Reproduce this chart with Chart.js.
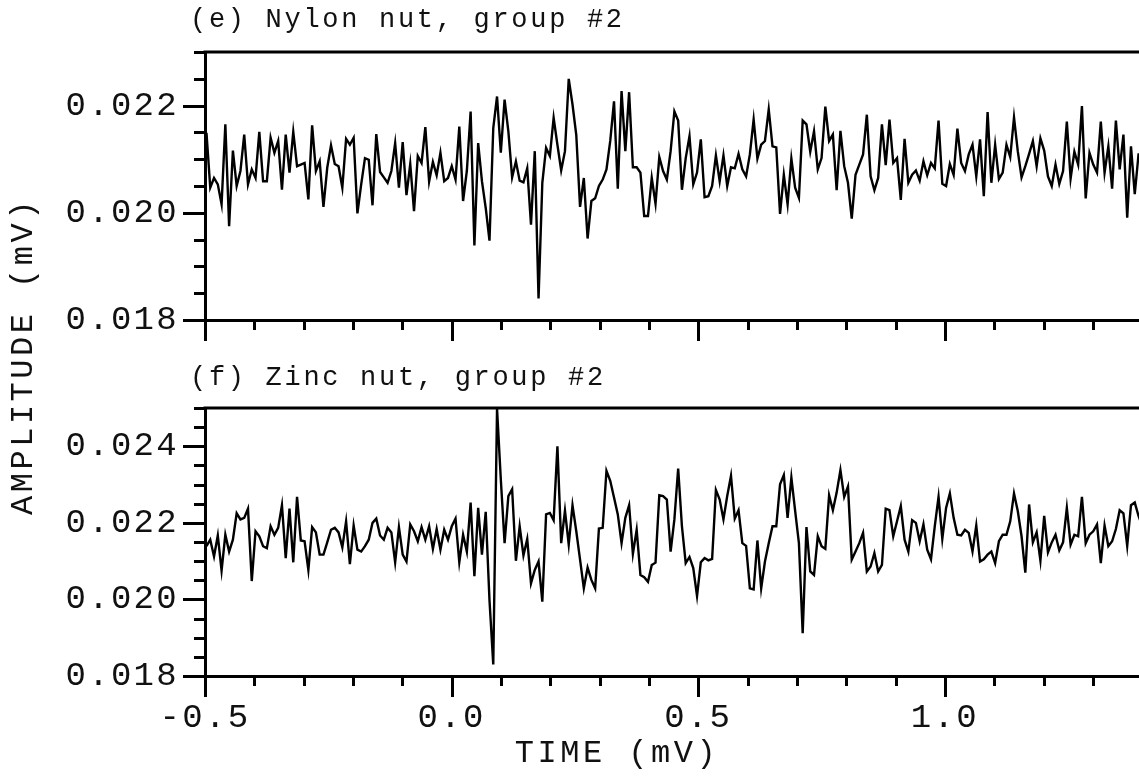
<!DOCTYPE html>
<html>
<head>
<meta charset="utf-8">
<title>Nylon / Zinc nut, group #2</title>
<script src="https://cdn.jsdelivr.net/npm/chart.js@4.4.0/dist/chart.umd.min.js"></script>
<style>
  html, body { margin: 0; padding: 0; background: #fff; }
  #wrap { position: relative; width: 1139px; height: 776px; overflow: hidden;
          font-family: 'Liberation Mono', 'DejaVu Sans Mono', monospace; color: #111; }
  #wrap canvas { position: absolute; left: 0; }
  .txt { position: absolute; white-space: nowrap; }
  .panelTitle { font-size: 27px; line-height: 27px; letter-spacing: 2.7px; }
  .axisTitle { font-size: 32px; line-height: 32px; letter-spacing: 3.5px; }
</style>
</head>
<body>
<div id="wrap">
  <canvas id="topChart" width="1139" height="372" style="top:0px"></canvas>
  <canvas id="botChart" width="1139" height="436" style="top:340px"></canvas>
  <div class="txt panelTitle" id="titleTop" style="left:190px; top:7px;"></div>
  <div class="txt panelTitle" id="titleBot" style="left:190px; top:365px;"></div>
  <div class="txt axisTitle" id="yTitle" style="left:-176px; top:340px; width:400px; text-align:center; transform:rotate(-90deg);"></div>
  <div class="txt axisTitle" id="xTitle" style="left:417px; top:738px; width:400px; text-align:center;"></div>
</div>
<script>
// --- DATA ---
const TITLE_TOP = '(e) Nylon nut, group #2';
const TITLE_BOT = '(f) Zinc nut, group #2';
const X_TITLE = 'TIME (mV)';
const Y_TITLE = 'AMPLITUDE (mV)';

// sampling grid of both records
const T_START = -0.497;
const T_STEP = 0.00765;

const X_MIN = -0.5;
const X_MAX = 1.3935;
const X_TICK_VALUES = [-0.5, 0.0, 0.5, 1.0];
const X_TICK_LABELS = ['-0.5', '0.0', '0.5', '1.0'];

const TOP_Y_RANGE = [0.018, 0.023];
const TOP_Y_TICK_VALUES = [0.018, 0.020, 0.022];
const TOP_Y_TICK_LABELS = ['0.018', '0.020', '0.022'];

const BOT_Y_RANGE = [0.018, 0.025];
const BOT_Y_TICK_VALUES = [0.018, 0.020, 0.022, 0.024];
const BOT_Y_TICK_LABELS = ['0.018', '0.020', '0.022', '0.024'];

// (e) nylon nut
const NYLON_AMP = [
  0.02149, 0.02047, 0.02065, 0.02053, 0.02016, 0.02165, 0.01975, 0.02116, 0.02050, 0.02078,
  0.02146, 0.02053, 0.02081, 0.02065, 0.02151, 0.02059, 0.02059, 0.02140, 0.02112, 0.02134,
  0.02043, 0.02146, 0.02075, 0.02151, 0.02087, 0.02090, 0.02093, 0.02025, 0.02163, 0.02078,
  0.02096, 0.02011, 0.02084, 0.02126, 0.02091, 0.02087, 0.02047, 0.02138, 0.02127, 0.02140,
  0.01999, 0.02053, 0.02102, 0.02099, 0.02014, 0.02147, 0.02076, 0.02066, 0.02056, 0.02078,
  0.02130, 0.02047, 0.02132, 0.02033, 0.02091, 0.02003, 0.02106, 0.02093, 0.02160, 0.02058,
  0.02095, 0.02070, 0.02112,
  0.02059, 0.02065, 0.02087, 0.02062, 0.02161, 0.02022, 0.02078, 0.02189, 0.01939, 0.02130,
  0.02059, 0.02009, 0.01948, 0.02158, 0.02217, 0.02112, 0.02211, 0.02152, 0.02066, 0.02096,
  0.02060, 0.02057, 0.02083, 0.01978, 0.02115, 0.01840, 0.02056, 0.02121, 0.02106, 0.02177,
  0.02127, 0.02079, 0.02115, 0.02250, 0.02202, 0.02145, 0.02011, 0.02065, 0.01952, 0.02022,
  0.02027, 0.02050, 0.02062, 0.02081, 0.02134, 0.02208, 0.02045, 0.02227, 0.02115, 0.02225,
  0.02085, 0.02085, 0.02075, 0.01994, 0.01994, 0.02065, 0.02017, 0.02104, 0.02078, 0.02062,
  0.02115, 0.02189,
  0.02172, 0.02043, 0.02102, 0.02143, 0.02053, 0.02075, 0.02137, 0.02029, 0.02031, 0.02050,
  0.02107, 0.02059, 0.02107, 0.02050, 0.02085, 0.02083, 0.02110, 0.02081, 0.02068, 0.02109,
  0.02174, 0.02101, 0.02127, 0.02134, 0.02193, 0.02124, 0.02122, 0.01998, 0.02071, 0.02016,
  0.02101, 0.02047, 0.02028, 0.02172, 0.02165, 0.02114, 0.02152, 0.02081, 0.02102, 0.02198,
  0.02134, 0.02146, 0.02042, 0.02153, 0.02087, 0.02056, 0.01989, 0.02071, 0.02090, 0.02109,
  0.02183, 0.02068, 0.02042, 0.02065, 0.02165, 0.02089, 0.02174, 0.02093, 0.02102, 0.02024,
  0.02138, 0.02056,
  0.02071, 0.02079, 0.02060, 0.02096, 0.02070, 0.02093, 0.02083, 0.02172, 0.02054, 0.02050,
  0.02091, 0.02071, 0.02157, 0.02093, 0.02078, 0.02109, 0.02127, 0.02068, 0.02137, 0.02031,
  0.02188, 0.02056, 0.02127, 0.02063, 0.02075, 0.02127, 0.02104, 0.02178, 0.02115, 0.02066,
  0.02087, 0.02110, 0.02134, 0.02087, 0.02139, 0.02116, 0.02068, 0.02050, 0.02090, 0.02054,
  0.02078, 0.02170, 0.02064, 0.02114, 0.02090, 0.02199, 0.02027, 0.02112, 0.02090, 0.02075,
  0.02170, 0.02075, 0.02124, 0.02045, 0.02172, 0.02081, 0.02146, 0.01991, 0.02124, 0.02035,
  0.02109, 0.02109
];

// (f) zinc nut
const ZINC_AMP = [
  0.02139, 0.02156, 0.02112, 0.02167, 0.02075, 0.02169, 0.02125, 0.02156, 0.02225, 0.02209,
  0.02213, 0.02237, 0.02048, 0.02178, 0.02165, 0.02139, 0.02134, 0.02191, 0.02169, 0.02187,
  0.02246, 0.02108, 0.02237, 0.02097, 0.02268, 0.02154, 0.02152, 0.02077, 0.02189, 0.02175,
  0.02117, 0.02117, 0.02149, 0.02182, 0.02187, 0.02175, 0.02136, 0.02204, 0.02092, 0.02193,
  0.02130, 0.02125, 0.02139, 0.02156, 0.02200, 0.02211, 0.02167, 0.02156, 0.02187, 0.02175,
  0.02097, 0.02189, 0.02117, 0.02099, 0.02196, 0.02178, 0.02152, 0.02189, 0.02156, 0.02191,
  0.02132, 0.02184, 0.02130,
  0.02182, 0.02156, 0.02191, 0.02211, 0.02097, 0.02169, 0.02125, 0.02253, 0.02061, 0.02239,
  0.02117, 0.02229, 0.01998, 0.01830, 0.02498, 0.02314, 0.02147, 0.02270, 0.02288, 0.02101,
  0.02191, 0.02115, 0.02158, 0.02042, 0.02077, 0.02099, 0.01994, 0.02222, 0.02226, 0.02207,
  0.02400, 0.02147, 0.02232, 0.02143, 0.02246, 0.02178, 0.02104, 0.02029, 0.02083, 0.02051,
  0.02029, 0.02185, 0.02187, 0.02336, 0.02310, 0.02266, 0.02222, 0.02147, 0.02213, 0.02246,
  0.02119, 0.02182, 0.02064, 0.02058, 0.02046, 0.02090, 0.02096, 0.02272, 0.02270, 0.02261,
  0.02125, 0.02209,
  0.02342, 0.02191, 0.02095, 0.02111, 0.02082, 0.02009, 0.02097, 0.02108, 0.02102, 0.02106,
  0.02286, 0.02261, 0.02209, 0.02270, 0.02323, 0.02211, 0.02233, 0.02147, 0.02140, 0.02029,
  0.02026, 0.02154, 0.02029, 0.02099, 0.02147, 0.02191, 0.02191, 0.02301, 0.02325, 0.02213,
  0.02318, 0.02231, 0.02147, 0.01912, 0.02189, 0.02073, 0.02064, 0.02165, 0.02139, 0.02132,
  0.02272, 0.02233, 0.02279, 0.02338, 0.02268, 0.02295, 0.02104, 0.02125, 0.02147, 0.02174,
  0.02073, 0.02086, 0.02121, 0.02073, 0.02090, 0.02237, 0.02233, 0.02165, 0.02204, 0.02244,
  0.02156, 0.02125,
  0.02207, 0.02200, 0.02152, 0.02196, 0.02130, 0.02105, 0.02191, 0.02268, 0.02158, 0.02239,
  0.02277, 0.02213, 0.02169, 0.02167, 0.02182, 0.02174, 0.02125, 0.02193, 0.02099, 0.02105,
  0.02117, 0.02125, 0.02095, 0.02152, 0.02169, 0.02169, 0.02204, 0.02277, 0.02231, 0.02165,
  0.02070, 0.02248, 0.02149, 0.02175, 0.02101, 0.02218, 0.02123, 0.02149, 0.02169, 0.02128,
  0.02149, 0.02239, 0.02143, 0.02169, 0.02165, 0.02268, 0.02147, 0.02169, 0.02178, 0.02196,
  0.02095, 0.02193, 0.02139, 0.02152, 0.02184, 0.02233, 0.02225, 0.02140, 0.02246, 0.02253,
  0.02218, 0.02191
];

// --- STYLE ---
const INK = '#000';
const TEXT_INK = '#111';
const FONT_FAMILY = "'Liberation Mono', 'DejaVu Sans Mono', monospace";
const TICK_FONT = { family: FONT_FAMILY, size: 34 };
const Y_STEP = 0.0005;   // minor tick step on amplitude
const X_STEP = 0.1;      // minor tick step on time

function findLabel(value, values, labels) {
  for (let i = 0; i < values.length; i++) {
    if (Math.abs(value - values[i]) < 1e-9) return labels[i];
  }
  return '';
}

// outward ticks (long major / short minor) and the top frame line
const axisDecor = {
  id: 'axisDecor',
  beforeDraw(chart) {
    chart.ctx.letterSpacing = '2.3px';
  },
  afterDraw(chart) {
    const ctx = chart.ctx;
    const a = chart.chartArea;
    const xs = chart.scales.x;
    const ys = chart.scales.y;
    ctx.save();
    ctx.strokeStyle = INK;
    ctx.lineWidth = 3;
    ctx.beginPath();
    ys.ticks.forEach(t => {
      const k = Math.round(t.value / Y_STEP);
      const len = (k % 4 === 0) ? 22 : 11;
      const py = Math.round(ys.getPixelForValue(t.value)) + 0.5;
      ctx.moveTo(a.left - len, py);
      ctx.lineTo(a.left, py);
    });
    xs.ticks.forEach(t => {
      const k = Math.round(t.value / X_STEP);
      const len = (k % 5 === 0) ? 21 : 10;
      const px = Math.round(xs.getPixelForValue(t.value)) + 0.5;
      ctx.moveTo(px, a.bottom);
      ctx.lineTo(px, a.bottom + len);
    });
    ctx.moveTo(a.left - 1.5, a.top);
    ctx.lineTo(a.right, a.top);
    ctx.stroke();
    ctx.restore();
  }
};

function makePanel(canvasId, amp, yRange, yTickValues, yTickLabels, padTop, xAxisHeight, showXLabels) {
  const points = amp.map((v, i) => ({ x: T_START + i * T_STEP, y: v }));
  return new Chart(document.getElementById(canvasId), {
    type: 'line',
    data: {
      datasets: [{
        data: points,
        borderColor: INK,
        borderWidth: 2.4,
        pointRadius: 0,
        tension: 0,
        fill: false
      }]
    },
    options: {
      responsive: false,
      animation: false,
      layout: { padding: { top: padTop, right: 0, bottom: 0, left: 0 } },
      plugins: { legend: { display: false }, tooltip: { enabled: false } },
      scales: {
        x: {
          type: 'linear',
          min: X_MIN,
          max: X_MAX,
          grid: { display: false, drawTicks: false },
          border: { display: true, color: INK, width: 3 },
          ticks: {
            display: showXLabels,
            stepSize: X_STEP,
            includeBounds: false,
            autoSkip: false,
            maxRotation: 0,
            padding: 22,
            color: TEXT_INK,
            font: TICK_FONT,
            callback: v => findLabel(Math.round(v * 10) / 10, X_TICK_VALUES, X_TICK_LABELS)
          },
          afterFit: s => { s.height = xAxisHeight; }
        },
        y: {
          type: 'linear',
          min: yRange[0],
          max: yRange[1],
          grid: { display: false, drawTicks: false },
          border: { display: true, color: INK, width: 3 },
          ticks: {
            stepSize: Y_STEP,
            includeBounds: false,
            autoSkip: false,
            padding: 26,
            color: TEXT_INK,
            font: TICK_FONT,
            callback: v => findLabel(Math.round(v / Y_STEP) * Y_STEP, yTickValues, yTickLabels)
          },
          afterFit: s => { s.width = 205; }
        }
      }
    },
    plugins: [axisDecor]
  });
}

document.getElementById('titleTop').textContent = TITLE_TOP;
document.getElementById('titleBot').textContent = TITLE_BOT;
document.getElementById('xTitle').textContent = X_TITLE;
document.getElementById('yTitle').textContent = Y_TITLE;

// top panel: plot box 52..320, bottom panel: 408..676 (page pixels)
makePanel('topChart', NYLON_AMP, TOP_Y_RANGE, TOP_Y_TICK_VALUES, TOP_Y_TICK_LABELS, 52, 52, false);
makePanel('botChart', ZINC_AMP, BOT_Y_RANGE, BOT_Y_TICK_VALUES, BOT_Y_TICK_LABELS, 68, 100, true);
</script>
</body>
</html>
